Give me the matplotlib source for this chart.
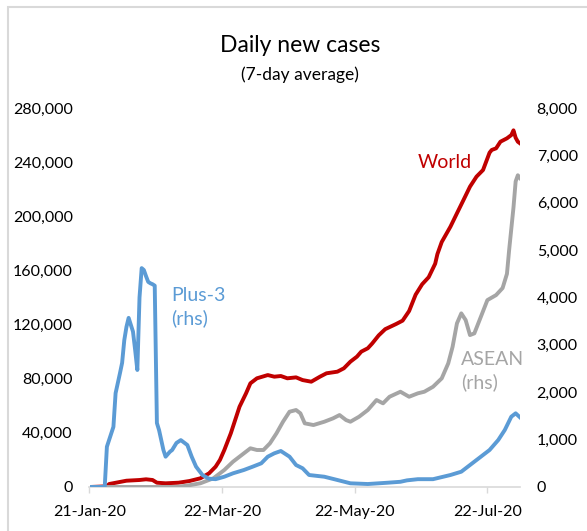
import numpy as np
import pandas as pd
import matplotlib
matplotlib.use("Agg")
import matplotlib.pyplot as plt
import matplotlib.dates as mdates
from matplotlib.patches import Rectangle

plt.rcParams['font.family'] = ['Lato', 'DejaVu Sans']

# ---- data (days since 21-Jan-20) ----
START = pd.Timestamp("2020-01-21")

world_day = [0, 8, 9, 17, 23, 26, 29, 31, 35, 41, 46, 51, 55, 58, 60, 62, 65, 67, 69, 72,
             74, 77, 82, 85, 88, 91, 95, 98, 102, 106, 109, 114, 117, 120, 123, 125, 128,
             130, 133, 136, 141, 144, 147, 150, 153, 156, 159, 160, 162, 166, 169, 172,
             175, 178, 181, 184, 185, 187, 189, 192, 194, 195, 196, 197, 198]
world_cases = [0, 500, 2200, 4650, 5170, 5690, 5170, 3180, 2730, 3180, 4430, 6430, 10120,
               15000, 20000, 27300, 39700, 49500, 59300, 69200, 76600, 80300, 82700, 81500,
               82000, 80300, 81000, 79000, 77800, 81500, 84000, 85200, 87700, 92600, 96300,
               100000, 102500, 106000, 112000, 116600, 120400, 122900, 130000, 142100,
               149800, 155000, 165000, 172000, 181000, 192300, 202200, 212000, 221900,
               229300, 234200, 247000, 249000, 250200, 255100, 257600, 260000, 263500,
               258000, 255100, 253900]

plus3_day = [0, 7, 8, 11, 12, 14, 15, 16, 17, 18, 20, 21, 22, 23, 24, 25, 26, 27, 28, 29,
             30, 31, 32, 34, 35, 37, 38, 40, 42, 45, 47, 49, 52, 55, 58, 62, 66, 71, 75,
             79, 82, 85, 88, 90, 92, 95, 98, 101, 108, 114, 120, 128, 137, 143, 146, 151,
             158, 166, 171, 175, 180, 184, 188, 191, 194, 196, 198]
plus3_cases = [0, 0, 850, 1270, 1980, 2400, 2620, 3100, 3380, 3570, 3280, 2890, 2470, 4000,
               4620, 4580, 4450, 4330, 4300, 4280, 4250, 1350, 1200, 780, 640, 745, 780, 930,
               990, 886, 640, 430, 250, 175, 165, 217, 289, 359, 428, 500, 640, 711, 760,
               700, 640, 464, 395, 253, 217, 148, 78, 63, 90, 110, 140, 165, 165, 253, 323,
               464, 640, 781, 992, 1203, 1484, 1555, 1470]

asean_day = [0, 40, 45, 51, 57, 62, 66, 71, 74, 77, 80, 83, 86, 89, 92, 95, 97, 99, 103,
             108, 112, 115, 118, 120, 124, 128, 132, 135, 138, 143, 147, 151, 154, 158,
             162, 165, 167, 169, 171, 173, 175, 177, 180, 183, 187, 190, 192, 193, 195,
             196, 197, 198]
asean_cases = [0, 0, 30, 78, 184, 359, 534, 711, 817, 781, 781, 922, 1133, 1378, 1589, 1625,
               1555, 1344, 1308, 1378, 1449, 1519, 1413, 1378, 1484, 1625, 1836, 1766, 1905,
               2011, 1905, 1977, 2011, 2116, 2293, 2610, 2960, 3454, 3665, 3524, 3207, 3243,
               3593, 3945, 4051, 4200, 4500, 5000, 5900, 6450, 6580, 6520]

tick_dates = ["2020-01-21", "2020-03-22", "2020-05-22", "2020-07-22"]
END_DAY = 198

RED = "#C00000"
BLUE = "#5B9BD5"
GREY = "#A5A5A5"
AXIS_GREY = "#D9D9D9"
LW = 2.8


def to_dates(days):
    return START + pd.to_timedelta(days, unit="D")


W, H = 587, 531
fig = plt.figure(figsize=(W / 100, H / 100), dpi=100)
ax = fig.add_axes([89.5 / W, 1 - 487 / H, (520 - 89.5) / W, (487 - 108) / H])
ax2 = ax.twinx()

ax.plot(to_dates(world_day), world_cases, color=RED, lw=LW, solid_joinstyle="round")
ax2.plot(to_dates(asean_day), asean_cases, color=GREY, lw=LW, solid_joinstyle="round")
ax2.plot(to_dates(plus3_day), plus3_cases, color=BLUE, lw=LW, solid_joinstyle="round")

ax.set_xlim(START, START + pd.Timedelta(days=END_DAY))
ax.set_ylim(0, 280000)
ax2.set_ylim(0, 8000)
ax.set_yticks(np.arange(0, 280001, 40000))
ax2.set_yticks(np.arange(0, 8001, 1000))
ax.yaxis.set_major_formatter(matplotlib.ticker.FuncFormatter(lambda v, p: f"{int(v):,}"))
ax2.yaxis.set_major_formatter(matplotlib.ticker.FuncFormatter(lambda v, p: f"{int(v):,}"))

ax.set_xticks(pd.to_datetime(tick_dates))
ax.xaxis.set_major_formatter(mdates.DateFormatter("%d-%b-%y"))

for a in (ax, ax2):
    for s in ("left", "right", "top"):
        a.spines[s].set_visible(False)
    a.spines["bottom"].set_color(AXIS_GREY)
    a.spines["bottom"].set_linewidth(1.2)
    a.tick_params(axis="y", length=0, labelsize=11.5, colors="black", pad=12)
ax2.spines["bottom"].set_visible(False)
ax.tick_params(axis="x", length=4, width=1, color=AXIS_GREY, labelsize=11.5, pad=9)

# annotations
fig.text(445 / W, 1 - 163 / H, "World", color=RED, fontsize=14, ha="center", va="center")
fig.text(171 / W, 1 - 307 / H, "Plus-3\n(rhs)", color=BLUE, fontsize=14, ha="left",
         va="center", linespacing=1.35)
fig.text(461 / W, 1 - 371 / H, "ASEAN\n(rhs)", color=GREY, fontsize=14, ha="left",
         va="center", linespacing=1.35)

# title
fig.text(300 / W, 1 - 45 / H, "Daily new cases", fontsize=16.5, ha="center", va="center")
fig.text(300 / W, 1 - 75 / H, "(7-day average)", fontsize=12.5, ha="center", va="center")

# chart area border
fig.patches.append(Rectangle((8 / W, -0.1), 1.2, 1 - 7 / H + 0.1, transform=fig.transFigure,
                             fill=False, edgecolor=AXIS_GREY, lw=1.5, zorder=0))

fig.savefig("out.png", dpi=100)
